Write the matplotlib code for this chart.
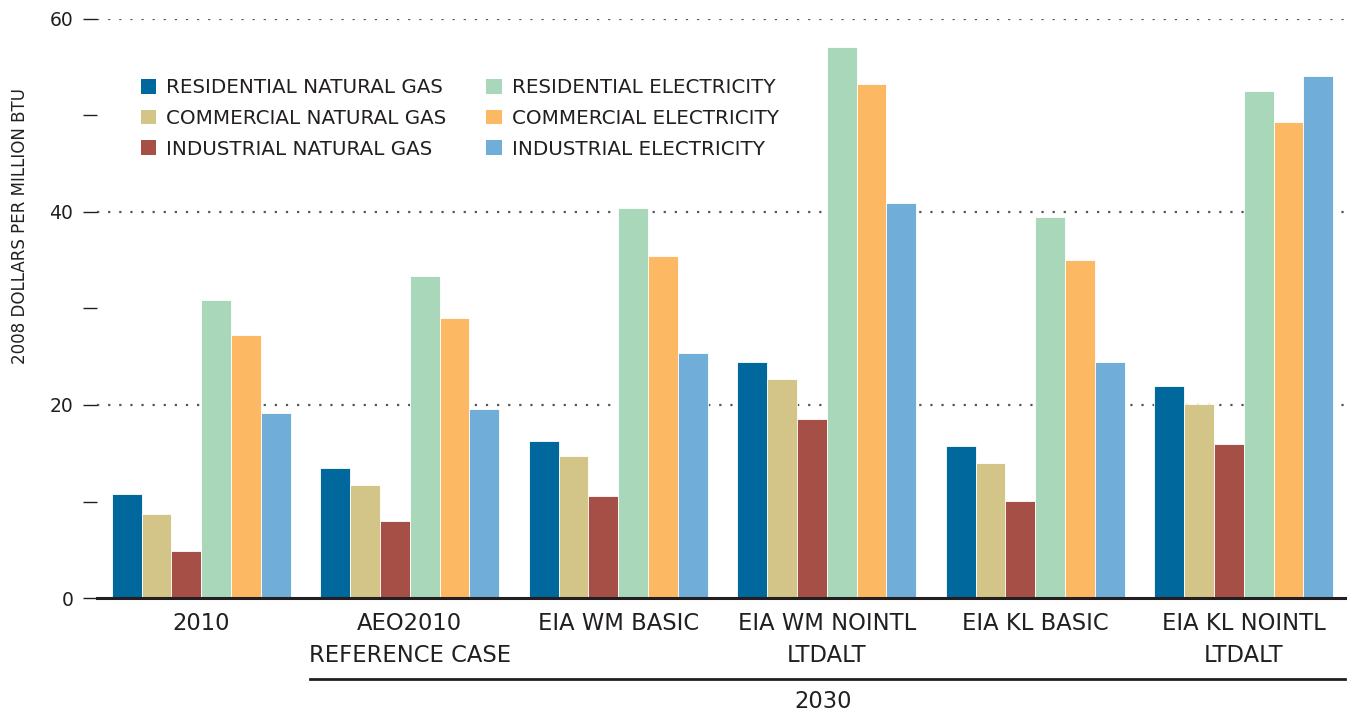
import matplotlib
matplotlib.use("Agg")
import matplotlib.pyplot as plt
import numpy as np
from matplotlib.patches import Patch
from matplotlib.lines import Line2D

categories = ["2010", "AEO2010\nREFERENCE CASE", "EIA WM BASIC", "EIA WM NOINTL\nLTDALT",
              "EIA KL BASIC", "EIA KL NOINTL\nLTDALT"]
series_names = ["RESIDENTIAL NATURAL GAS", "COMMERCIAL NATURAL GAS", "INDUSTRIAL NATURAL GAS",
                "RESIDENTIAL ELECTRICITY", "COMMERCIAL ELECTRICITY", "INDUSTRIAL ELECTRICITY"]
res_gas = [10.8, 13.5, 16.3, 24.5, 15.8, 22.0]
com_gas = [8.7, 11.7, 14.7, 22.7, 14.0, 20.1]
ind_gas = [4.9, 8.0, 10.6, 18.5, 10.1, 16.0]
res_elec = [30.9, 33.4, 40.4, 57.1, 39.5, 52.5]
com_elec = [27.3, 29.0, 35.4, 53.3, 35.0, 49.3]
ind_elec = [19.2, 19.6, 25.4, 40.9, 24.5, 54.1]
yticks_major = [0, 20, 40, 60]
yticks_minor = [10, 30, 50]
group_label = "2030"
ylabel = "2008 DOLLARS PER MILLION BTU"

colors = ["#00689c", "#d3c587", "#a54f47", "#a8d8b9", "#fdb863", "#70aed9"]
series = [res_gas, com_gas, ind_gas, res_elec, com_elec, ind_elec]

txtcol = "#231f20"

fig = plt.figure(figsize=(13.55, 7.17), dpi=100)
ax = fig.add_axes([97/1355, 1-598/717, (1345-97)/1355, (598-19)/717])

pitch = 7
x0 = np.arange(len(categories)) * pitch
for i, (vals, c) in enumerate(zip(series, colors)):
    ax.bar(x0 + i, vals, width=1.0, color=c, edgecolor="white", linewidth=0.6,
           label=series_names[i], zorder=3)

ax.set_xlim(-1.0, 40.9)
ax.set_ylim(0, 60)
for s in ["left", "right", "top"]:
    ax.spines[s].set_visible(False)
ax.spines["bottom"].set_linewidth(2.2)
ax.spines["bottom"].set_color(txtcol)
ax.spines["bottom"].set_zorder(4)

ax.set_yticks(yticks_major)
ax.set_yticklabels([str(v) for v in yticks_major], fontsize=13.5, color=txtcol)
ax.set_yticks(yticks_minor, minor=True)
ax.tick_params(axis="y", which="both", length=10, width=1.0, color=txtcol, pad=7)
ax.tick_params(axis="x", length=0)
for t in yticks_major[1:]:
    ax.axhline(t, color="#555555", linestyle=(0, (1, 4)), linewidth=1.6, zorder=1)

ax.set_xticks(x0 + 2.5)
ax.set_xticklabels(categories, fontsize=16.3, color=txtcol, linespacing=1.5)
ax.tick_params(axis="x", pad=10)

fig.text(20/1355, 1-226/717, ylabel, rotation=90, ha="center", va="center",
         fontsize=13.3, color=txtcol, fontstretch="condensed")

# 2030 bracket
ax.add_line(Line2D([310/1355, 1345/1355], [1-679/717, 1-679/717], transform=fig.transFigure,
                   color=txtcol, linewidth=2.0, clip_on=False))
fig.text(823/1355, 1-701/717, group_label, ha="center", va="center", fontsize=16.3,
         color=txtcol)

handles = [Patch(facecolor=c, edgecolor="none") for c in colors]
leg = ax.legend(handles, series_names, ncol=2,
                loc="upper left", bbox_to_anchor=(141/1355, 1-78/717), bbox_transform=fig.transFigure,
                frameon=False, prop={"size": 14.3},
                handlelength=0.78, handleheight=0.78, handletextpad=0.5,
                columnspacing=2.0, labelspacing=0.6, borderpad=0, borderaxespad=0)
for t in leg.get_texts():
    t.set_color(txtcol)

fig.savefig("out.png", dpi=100)
